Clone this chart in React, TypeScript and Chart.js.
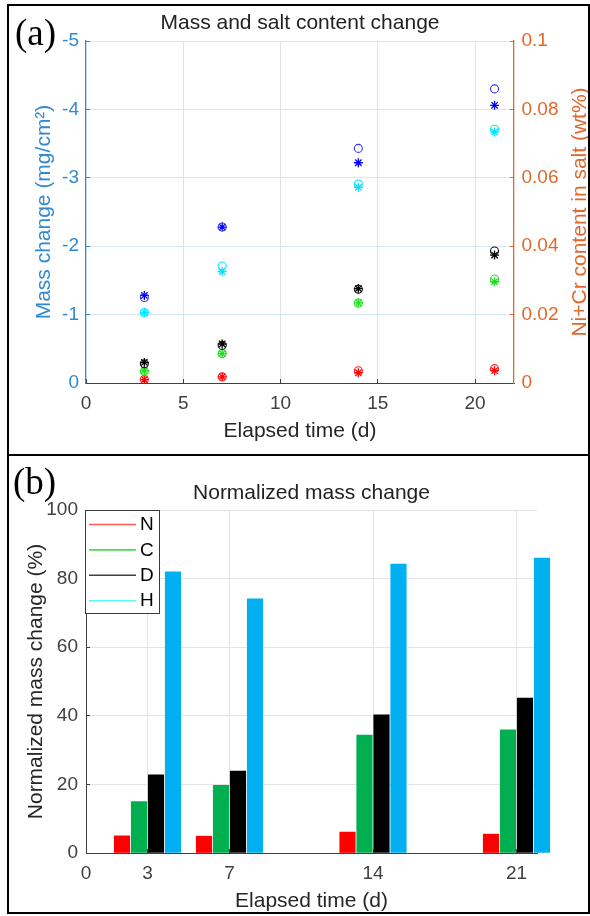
import React, { useEffect, useRef } from 'react';
import { Chart, registerables } from 'chart.js';

Chart.register(...registerables);

// ---------- data: panel (a) ----------
const elapsedDays = [3, 7, 14, 21];
// mass change (mg/cm2), left axis (circles)
const massChangeBlue = [-1.25, -2.28, -3.43, -4.3];
const massChangeCyan = [-1.03, -1.71, -2.91, -3.71];
const massChangeBlack = [-0.28, -0.55, -1.37, -1.93];
const massChangeGreen = [-0.17, -0.43, -1.17, -1.52];
const massChangeRed = [-0.05, -0.09, -0.18, -0.21];
// Ni+Cr content in salt (wt%), right axis (asterisks)
const saltBlue = [0.0256, 0.0456, 0.0644, 0.0812];
const saltCyan = [0.0206, 0.0326, 0.0572, 0.0734];
const saltBlack = [0.006, 0.0114, 0.0276, 0.0374];
const saltGreen = [0.0036, 0.0086, 0.0234, 0.0296];
const saltRed = [0.001, 0.0018, 0.003, 0.0036];

// ---------- data: panel (b) ----------
const groupDays = [3, 7, 14, 21];
const seriesLabels = ['N', 'C', 'D', 'H'];
const normN = [5.0, 4.9, 6.1, 5.5];
const normC = [15.0, 19.7, 34.4, 35.9];
const normD = [22.8, 23.9, 40.3, 45.2];
const normH = [82.0, 74.1, 84.2, 86.0];
const xTicksB = [0, 3, 7, 14, 21];

// ---------- styles ----------
const FONT = '"Liberation Sans", Arial, Helvetica, sans-serif';
const SERIF = '"Liberation Serif", "Times New Roman", serif';
const BLUE_AXIS = '#2f8ad0';
const ORANGE_AXIS = '#e0682c';
const DARK = '#404040';
const TRANSPARENT = 'rgba(0,0,0,0)';

Chart.defaults.font.family = FONT;

const panelLabelPlugin = {
  id: 'panelLabel',
  afterDraw(chart: any, _args: any, opts: any) {
    if (!opts || !opts.text) return;
    const ctx = chart.ctx;
    ctx.save();
    ctx.font = `37px ${SERIF}`;
    ctx.fillStyle = '#000';
    ctx.textAlign = 'left';
    ctx.textBaseline = 'alphabetic';
    ctx.fillText(opts.text, opts.x, opts.y);
    ctx.restore();
  },
};

const sideTitlePlugin = {
  id: 'sideTitle',
  afterDraw(chart: any, _args: any, opts: any) {
    if (!opts || !opts.text) return;
    const { ctx, chartArea } = chart;
    ctx.save();
    ctx.translate(opts.x, (chartArea.top + chartArea.bottom) / 2);
    ctx.rotate(-Math.PI / 2);
    ctx.font = `21px ${FONT}`;
    ctx.fillStyle = opts.color;
    ctx.textAlign = 'center';
    ctx.textBaseline = 'middle';
    ctx.fillText(opts.text, 0, 0);
    ctx.restore();
  },
};

const boxLegendPlugin = {
  id: 'boxLegend',
  afterDraw(chart: any, _args: any, opts: any) {
    if (!opts || !opts.colors) return;
    const { ctx, chartArea } = chart;
    const left = Math.round(chartArea.left) - 1;
    const top = Math.round(chartArea.top);
    const w = 74;
    const h = 103;
    ctx.save();
    ctx.fillStyle = '#fff';
    ctx.fillRect(left, top, w, h);
    ctx.strokeStyle = '#3a3a3a';
    ctx.lineWidth = 1;
    ctx.strokeRect(left + 0.5, top + 0.5, w, h);
    ctx.font = `19px ${FONT}`;
    ctx.textAlign = 'left';
    ctx.textBaseline = 'middle';
    chart.data.datasets.forEach((ds: any, i: number) => {
      const y = top + 14.5 + i * 25.4;
      ctx.strokeStyle = opts.colors[i];
      ctx.lineWidth = 1.6;
      ctx.beginPath();
      ctx.moveTo(left + 4, y);
      ctx.lineTo(left + 51, y);
      ctx.stroke();
      ctx.fillStyle = '#000';
      ctx.fillText(ds.label, left + 55, y + 0.5);
    });
    ctx.restore();
  },
};

const tickFont = { family: FONT, size: 19 };
const labelFont = { family: FONT, size: 21, lineHeight: 1.2 };

const pts = (ys: number[]) => elapsedDays.map((d, i) => ({ x: d, y: ys[i] }));

const circleSet = (label: string, ys: number[], color: string) => ({
  label,
  data: pts(ys),
  yAxisID: 'y',
  pointStyle: 'circle',
  pointRadius: 4,
  borderColor: color,
  backgroundColor: TRANSPARENT,
  pointBorderWidth: 1.1,
  showLine: false,
});

const starSet = (label: string, ys: number[], color: string) => ({
  label,
  data: pts(ys),
  yAxisID: 'y1',
  pointStyle: 'star',
  pointRadius: 4.5,
  borderColor: color,
  backgroundColor: color,
  pointBorderWidth: 1.3,
  showLine: false,
});

const zeroHidden = (color: string) => (ctx: any) =>
  ctx.tick && ctx.tick.value === 0 ? TRANSPARENT : color;

function buildConfigA(): any {
  return {
    type: 'scatter',
    data: {
      datasets: [
        circleSet('Mass B', massChangeBlue, '#3535ff'),
        circleSet('Mass H', massChangeCyan, '#00e4ff'),
        circleSet('Mass D', massChangeBlack, '#111111'),
        circleSet('Mass C', massChangeGreen, '#22dd22'),
        circleSet('Mass N', massChangeRed, '#ff2020'),
        starSet('Salt B', saltBlue, '#0000ff'),
        starSet('Salt H', saltCyan, '#00e4ff'),
        starSet('Salt D', saltBlack, '#000000'),
        starSet('Salt C', saltGreen, '#22dd22'),
        starSet('Salt N', saltRed, '#ff0000'),
      ],
    },
    options: {
      responsive: false,
      animation: false,
      layout: { padding: 0 },
      plugins: {
        legend: { display: false },
        tooltip: { enabled: false },
        title: {
          display: true,
          text: 'Mass and salt content change',
          fullSize: false,
          color: '#222222',
          font: { ...labelFont, weight: 'normal' },
          padding: { top: 10.6, bottom: 5.2 },
        },
        panelLabel: { text: '(a)', x: 15, y: 45 },
        sideTitle: { text: 'Ni+Cr content in salt (wt%)', x: 580, color: ORANGE_AXIS },
      },
      scales: {
        x: {
          type: 'linear',
          position: 'bottom',
          min: 0,
          max: 22,
          afterFit: (s: any) => {
            s.height = 72;
          },
          ticks: {
            stepSize: 5,
            includeBounds: false,
            color: DARK,
            font: tickFont,
            padding: 13.5,
            maxRotation: 0,
            autoSkip: false,
          },
          grid: {
            color: zeroHidden('#dfe3e8'),
            tickColor: DARK,
            tickLength: -4,
            lineWidth: 1,
          },
          border: { color: DARK, width: 1 },
          title: {
            display: true,
            text: 'Elapsed time (d)',
            color: '#262626',
            font: labelFont,
            padding: { top: 0, bottom: 10.7 },
          },
        },
        y: {
          type: 'linear',
          position: 'left',
          min: -5,
          max: 0,
          reverse: true,
          afterFit: (s: any) => {
            s.width = 86;
          },
          ticks: { stepSize: 1, color: BLUE_AXIS, font: tickFont, padding: 11 },
          grid: {
            color: zeroHidden('#d6e7f5'),
            tickColor: BLUE_AXIS,
            tickLength: -4,
          },
          border: { color: BLUE_AXIS, width: 1.3 },
          title: {
            display: true,
            text: 'Mass change (mg/cm²)',
            color: BLUE_AXIS,
            font: labelFont,
            padding: { top: 31.4, bottom: 0 },
          },
        },
        y1: {
          type: 'linear',
          position: 'right',
          min: 0,
          max: 0.1,
          afterFit: (s: any) => {
            s.width = 76;
          },
          ticks: {
            stepSize: 0.02,
            color: ORANGE_AXIS,
            font: tickFont,
            padding: 11.5,
            format: { minimumFractionDigits: 0 },
          },
          grid: { drawOnChartArea: false, tickColor: ORANGE_AXIS, tickLength: -4 },
          border: { color: ORANGE_AXIS, width: 1.3 },
        },
      },
    },
    plugins: [panelLabelPlugin, sideTitlePlugin],
  };
}

const barSet = (label: string, ys: number[], color: string) => ({
  label,
  data: groupDays.map((d, i) => ({ x: d, y: ys[i] })),
  backgroundColor: color,
  borderWidth: 0,
  barThickness: 17,
  maxBarThickness: 15.5,
  clip: false,
});

function buildConfigB(): any {
  return {
    type: 'bar',
    data: {
      datasets: [
        barSet(seriesLabels[0], normN, '#ff0000'),
        barSet(seriesLabels[1], normC, '#00b050'),
        barSet(seriesLabels[2], normD, '#000000'),
        barSet(seriesLabels[3], normH, '#00b0f0'),
      ],
    },
    options: {
      responsive: false,
      animation: false,
      layout: { padding: { left: 0, right: 53, top: 0, bottom: 0 } },
      plugins: {
        legend: { display: false },
        tooltip: { enabled: false },
        title: {
          display: true,
          text: 'Normalized mass change',
          fullSize: false,
          color: '#222222',
          font: { ...labelFont, weight: 'normal' },
          padding: { top: 25.7, bottom: 4.1 },
        },
        panelLabel: { text: '(b)', x: 13, y: 39 },
        boxLegend: { colors: ['#ff5a5a', '#44e044', '#404040', '#5ff5ff'] },
      },
      scales: {
        x: {
          type: 'linear',
          position: 'bottom',
          min: 0,
          max: 22,
          offset: false,
          afterBuildTicks: (s: any) => {
            s.ticks = xTicksB.map((v) => ({ value: v }));
          },
          afterFit: (s: any) => {
            s.height = 63;
          },
          ticks: { color: DARK, font: tickFont, padding: 12.9, autoSkip: false, maxRotation: 0 },
          grid: {
            offset: false,
            color: zeroHidden('#e4e4e4'),
            tickColor: DARK,
            tickLength: -4,
          },
          border: { color: DARK, width: 1 },
          title: {
            display: true,
            text: 'Elapsed time (d)',
            color: '#262626',
            font: labelFont,
            padding: { top: 0, bottom: 1.7 },
          },
        },
        y: {
          type: 'linear',
          position: 'left',
          min: 0,
          max: 100,
          afterFit: (s: any) => {
            s.width = 86;
          },
          ticks: { stepSize: 20, color: DARK, font: tickFont, padding: 12 },
          grid: {
            color: zeroHidden('#e4e4e4'),
            tickColor: DARK,
            tickLength: -4,
          },
          border: { color: DARK, width: 1 },
          title: {
            display: true,
            text: 'Normalized mass change (%)',
            color: '#262626',
            font: labelFont,
            padding: { top: 23.4, bottom: 0 },
          },
        },
      },
    },
    plugins: [panelLabelPlugin, boxLegendPlugin],
  };
}

export default function App() {
  const refA = useRef<HTMLCanvasElement>(null);
  const refB = useRef<HTMLCanvasElement>(null);

  useEffect(() => {
    const a = new Chart(refA.current as HTMLCanvasElement, buildConfigA());
    const b = new Chart(refB.current as HTMLCanvasElement, buildConfigB());
    return () => {
      a.destroy();
      b.destroy();
    };
  }, []);

  return (
    <div
      style={{
        position: 'absolute',
        left: 0,
        top: 0,
        width: 590,
        height: 916,
        background: '#fff',
        overflow: 'hidden',
      }}
    >
      <canvas
        ref={refA}
        width={590}
        height={455}
        style={{ position: 'absolute', left: 0, top: 0, display: 'block' }}
      />
      <canvas
        ref={refB}
        width={590}
        height={461}
        style={{ position: 'absolute', left: 0, top: 455, display: 'block' }}
      />
      <div
        style={{
          position: 'absolute',
          left: 7,
          top: 4,
          width: 583,
          height: 910,
          boxSizing: 'border-box',
          border: '2px solid #000',
          pointerEvents: 'none',
        }}
      />
      <div
        style={{
          position: 'absolute',
          left: 7,
          top: 454,
          width: 583,
          height: 2,
          background: '#000',
          pointerEvents: 'none',
        }}
      />
    </div>
  );
}
